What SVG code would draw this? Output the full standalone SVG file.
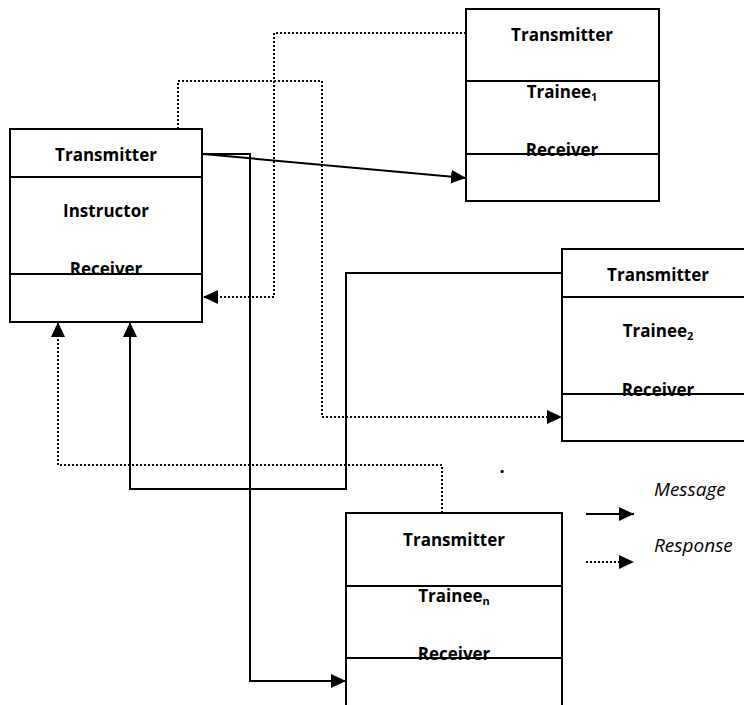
<svg xmlns="http://www.w3.org/2000/svg" width="744" height="705" viewBox="0 0 744 705">
<defs>
<style>
.box{fill:#fff;stroke:#000;stroke-width:2}
.div{stroke:#000;stroke-width:2}
.lbl{font-family:"Open Sans","Liberation Sans",sans-serif;font-weight:bold;font-size:17px;text-anchor:middle;fill:#000}
.sub{font-size:11px}
.leg{font-family:"Open Sans","Liberation Sans",sans-serif;font-style:italic;font-size:19px;fill:#000}
.msg{fill:none;stroke:#000;stroke-width:2}
.rsp{fill:none;stroke:#000;stroke-width:2;stroke-dasharray:2 2}
</style>
<marker id="ah" markerUnits="userSpaceOnUse" markerWidth="16" markerHeight="16" viewBox="0 0 16 16" refX="15" refY="8" orient="auto">
<path d="M0,1 L15,8 L0,15 Z" fill="#000"/>
</marker>
</defs>
<rect width="744" height="705" fill="#fff"/>
<g id="connectors">
<path class="msg" d="M203,154 L466,178" marker-end="url(#ah)"/>
<path class="msg" d="M203,154 H250 V681 H346" marker-end="url(#ah)"/>
<path class="rsp" d="M178,129 V81 H322 V417 H562" marker-end="url(#ah)"/>
<path class="rsp" d="M466,33 H274 V297 H203" marker-end="url(#ah)"/>
<path class="msg" d="M562,273 H346 V489 H130 V322" marker-end="url(#ah)"/>
<path class="rsp" d="M442,513 V465 H58 V322" marker-end="url(#ah)"/>
</g>
<g id="instructor">
<rect class="box" x="10" y="129" width="192" height="193"/>
<line class="div" x1="10" y1="177" x2="202" y2="177"/>
<line class="div" x1="10" y1="274" x2="202" y2="274"/>
<text class="lbl" x="106" y="161">Transmitter</text>
<text class="lbl" x="106" y="217">Instructor</text>
<text class="lbl" x="106" y="275">Receiver</text>
</g>
<g id="trainee1">
<rect class="box" x="466" y="9" width="193" height="192"/>
<line class="div" x1="466" y1="81" x2="659" y2="81"/>
<line class="div" x1="466" y1="154" x2="659" y2="154"/>
<text class="lbl" x="562" y="41">Transmitter</text>
<text class="lbl" x="562" y="98">Trainee<tspan class="sub" dy="3">1</tspan></text>
<text class="lbl" x="562" y="156">Receiver</text>
</g>
<g id="trainee2">
<rect class="box" x="562" y="249" width="192" height="192"/>
<line class="div" x1="562" y1="297" x2="754" y2="297"/>
<line class="div" x1="562" y1="394" x2="754" y2="394"/>
<text class="lbl" x="658" y="281">Transmitter</text>
<text class="lbl" x="658" y="337">Trainee<tspan class="sub" dy="3">2</tspan></text>
<text class="lbl" x="658" y="396">Receiver</text>
</g>
<g id="traineen">
<rect class="box" x="346" y="513" width="216" height="194"/>
<line class="div" x1="346" y1="586" x2="562" y2="586"/>
<line class="div" x1="346" y1="658" x2="562" y2="658"/>
<text class="lbl" x="454" y="546">Transmitter</text>
<text class="lbl" x="454" y="602">Trainee<tspan class="sub" dy="3">n</tspan></text>
<text class="lbl" x="454" y="660">Receiver</text>
</g>
<g id="legend">
<text x="502" y="473" font-family="Open Sans, sans-serif" font-weight="bold" font-size="18" text-anchor="middle">.</text>
<text class="leg" x="654" y="496">Message</text>
<text class="leg" x="654" y="552">Response</text>
<path class="msg" d="M586,514 H634" marker-end="url(#ah)"/>
<path class="rsp" d="M586,562 H634" marker-end="url(#ah)"/>
</g>
</svg>
